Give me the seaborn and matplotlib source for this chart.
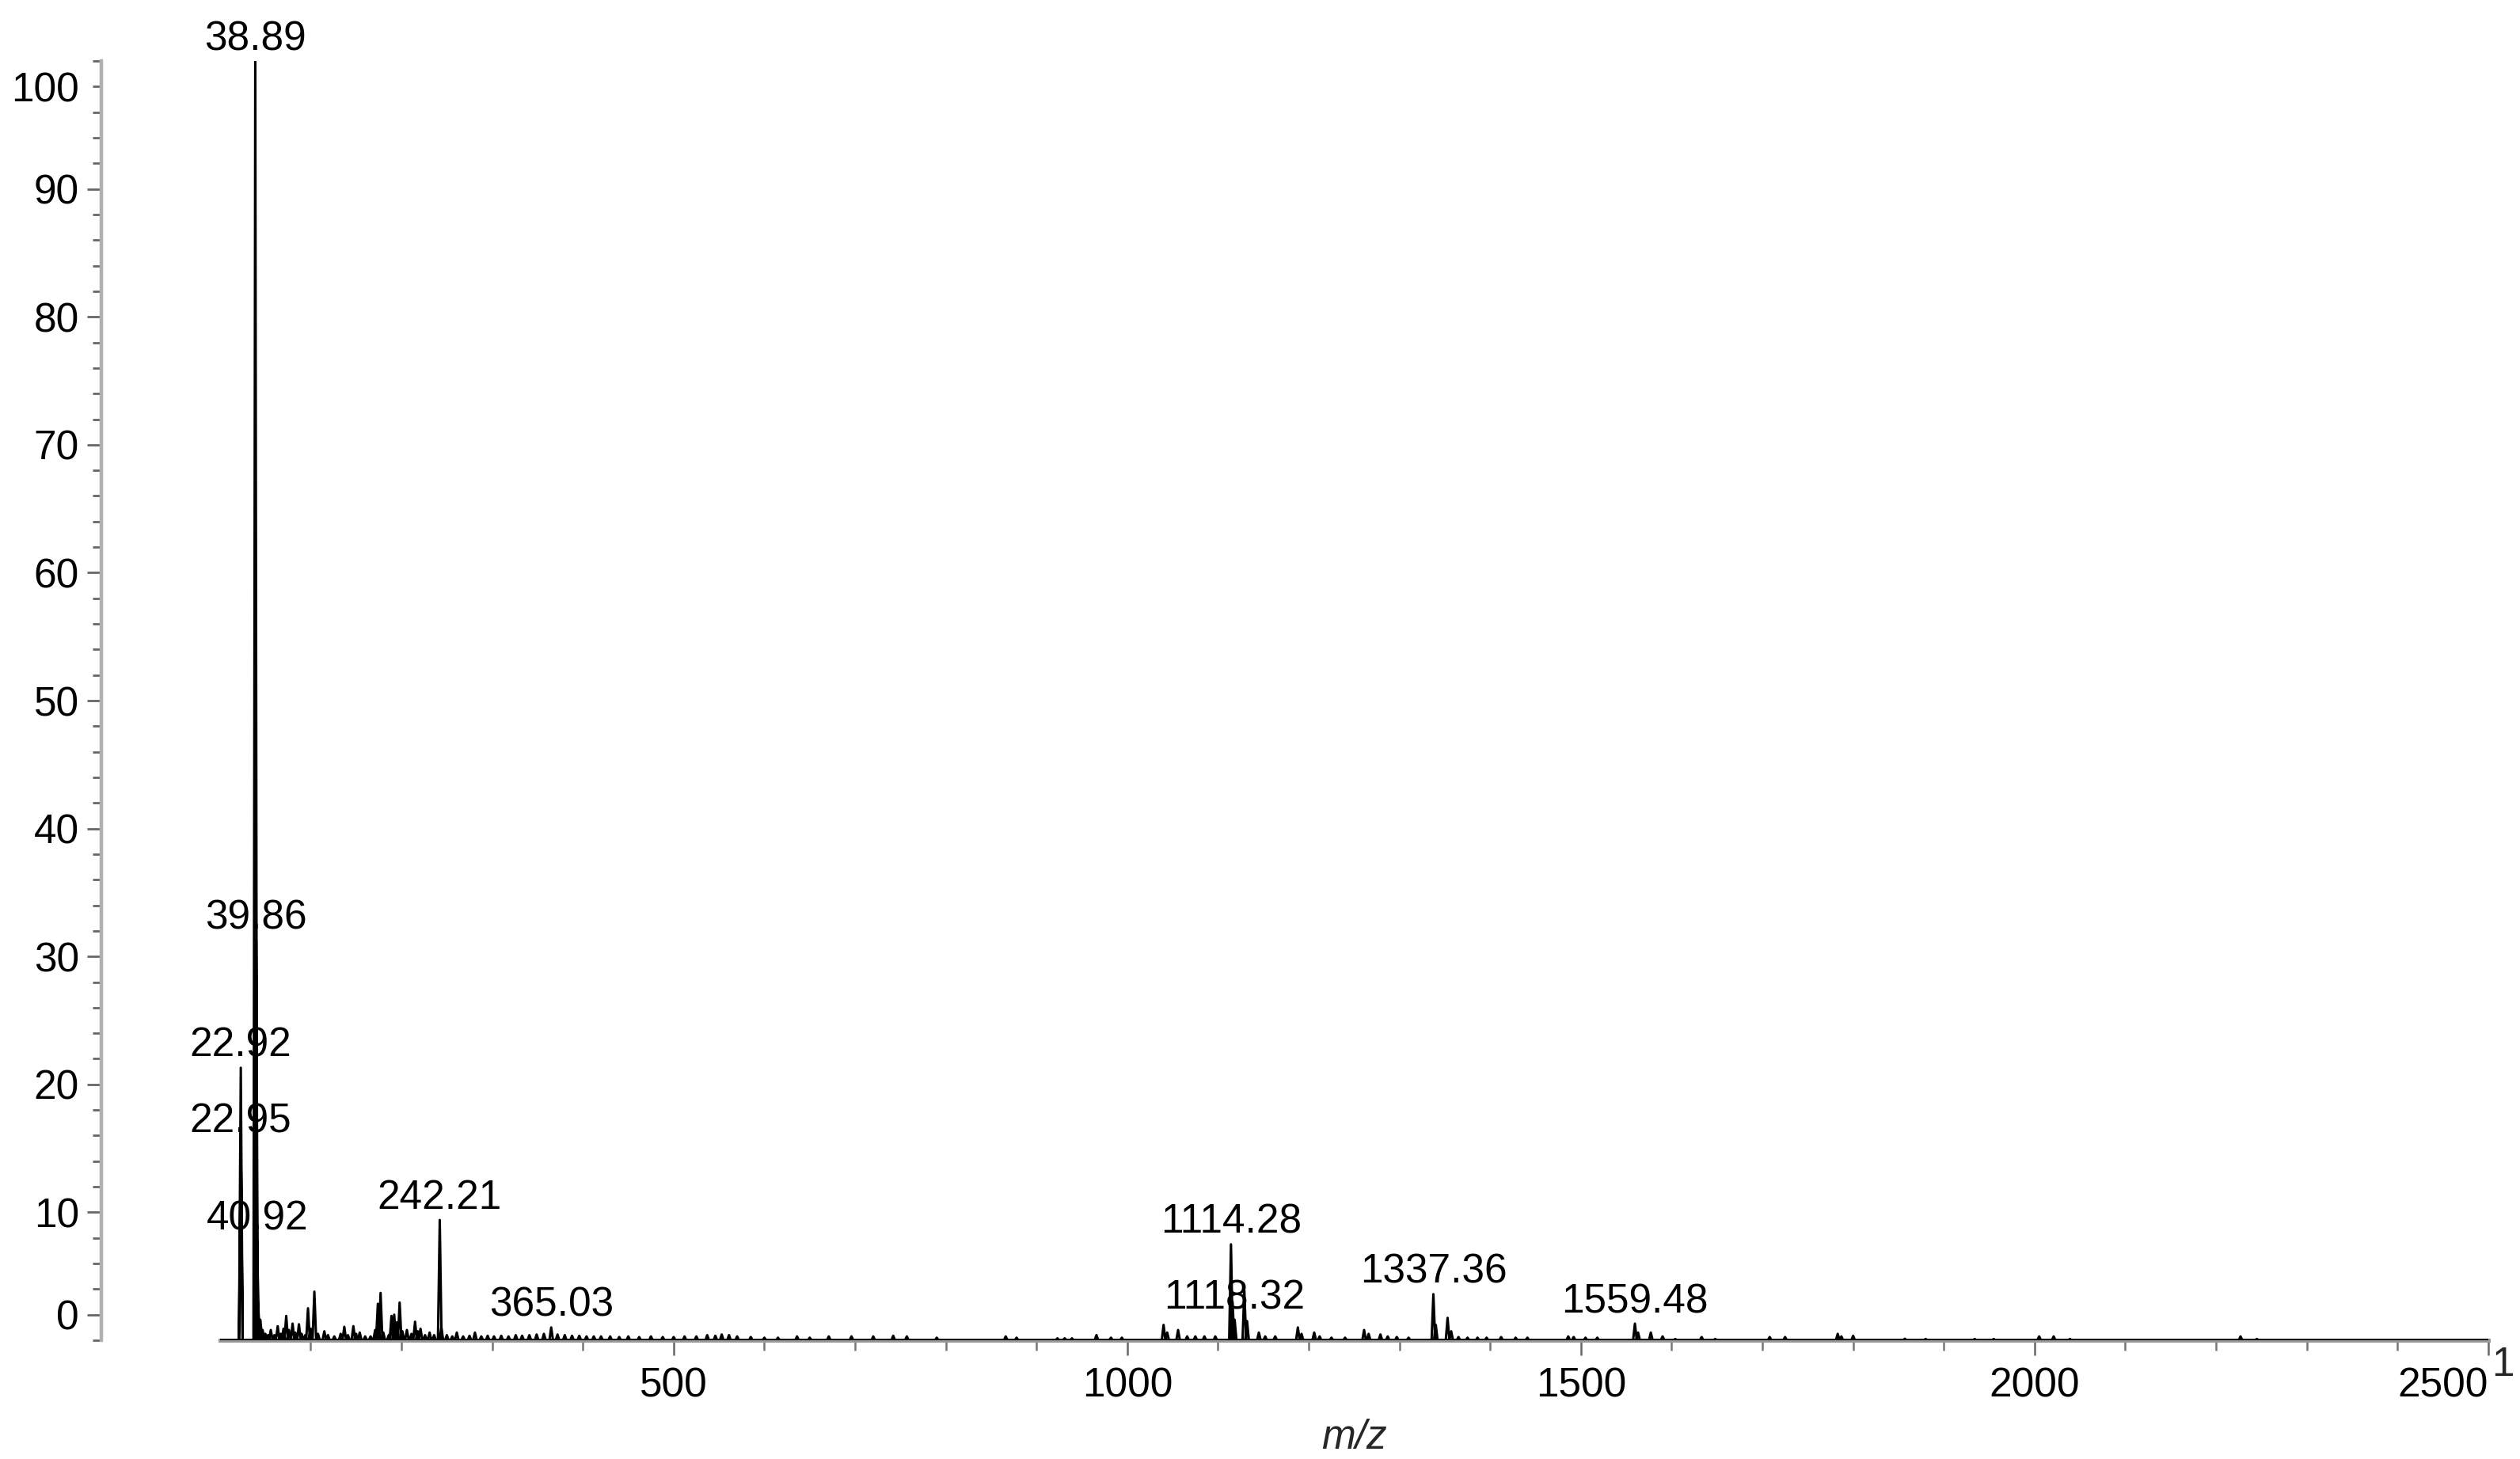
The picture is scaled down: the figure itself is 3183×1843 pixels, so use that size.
import matplotlib
matplotlib.use("Agg")
import matplotlib.pyplot as plt
import numpy as np
import pandas as pd
import seaborn as sns

# ---------------- data ----------------
peak_mz = [
    22.92, 22.95, 38.89, 39.86, 40.92, 42.0, 44.5, 47, 50, 53, 56, 60, 63.6, 67, 70, 73, 76, 80, 83, 87,
    90, 94, 97, 100, 104, 108, 115, 119, 126, 133, 137, 141, 147, 150, 154, 160, 166, 171, 174, 177,
    180, 186, 189, 192, 195, 198, 201, 206, 211, 215, 218, 221, 226, 231, 236, 242.21, 244, 250, 256, 261,
    268, 275, 281, 288, 295, 302, 310, 318, 326, 333, 341, 349, 357, 365.03, 372, 380, 388, 396, 404, 412,
    420, 430, 440, 450, 462, 475, 488, 500, 512, 525, 537, 546, 553, 561, 570, 585, 600, 615, 636, 650,
    671, 696, 720, 742, 757, 790, 866, 878, 923, 931, 939, 966, 982, 994, 1040, 1044, 1056, 1066, 1075, 1085,
    1097, 1114.28, 1116, 1118.32, 1129, 1132, 1145, 1152, 1163, 1188, 1192, 1206, 1212, 1225, 1240, 1261, 1266, 1279,
    1287, 1297, 1310, 1337.36, 1340, 1353, 1357, 1365, 1375, 1386, 1396, 1412, 1428, 1441, 1486, 1492, 1505, 1518,
    1559.48, 1563, 1577, 1590, 1604, 1633, 1648, 1708, 1725, 1783, 1787, 1800, 1857, 1880, 1934, 1955, 2005, 2021,
    2039, 2227, 2245,
]
peak_intensity = [
    21.3, 15.4, 100.0, 31.3, 7.8, 2.9, 1.6, 0.8, 0.5, 0.4, 0.8, 0.4, 1.1, 0.5, 0.9, 1.9, 0.8, 1.3, 0.6, 1.25,
    0.5, 0.4, 2.5, 0.9, 3.8, 0.5, 0.7, 0.4, 0.3, 0.5, 1.05, 0.4, 1.1, 0.5, 0.6, 0.3, 0.3, 0.8, 2.85, 3.7,
    0.6, 0.4, 1.9, 2.0, 1.4, 2.95, 0.7, 0.8, 0.5, 1.45, 0.7, 0.9, 0.4, 0.6, 0.4, 9.4, 1.0, 0.4, 0.3, 0.6,
    0.3, 0.35, 0.6, 0.3, 0.35, 0.3, 0.35, 0.3, 0.4, 0.35, 0.4, 0.45, 0.5, 1.0, 0.45, 0.4, 0.35, 0.35, 0.3, 0.3,
    0.3, 0.3, 0.25, 0.3, 0.25, 0.3, 0.25, 0.25, 0.3, 0.3, 0.4, 0.35, 0.45, 0.4, 0.3, 0.25, 0.2, 0.2, 0.3, 0.2,
    0.3, 0.3, 0.3, 0.35, 0.3, 0.2, 0.3, 0.2, 0.15, 0.15, 0.15, 0.4, 0.2, 0.2, 1.2, 0.6, 0.8, 0.3, 0.3, 0.3,
    0.3, 7.5, 3.0, 1.6, 3.9, 1.5, 0.6, 0.3, 0.3, 1.0, 0.5, 0.6, 0.3, 0.2, 0.2, 0.8, 0.5, 0.45,
    0.3, 0.25, 0.2, 3.6, 1.2, 1.75, 0.7, 0.25, 0.2, 0.2, 0.2, 0.25, 0.2, 0.2, 0.3, 0.25, 0.2, 0.2,
    1.3, 0.6, 0.6, 0.3, 0.1, 0.25, 0.1, 0.25, 0.25, 0.5, 0.3, 0.35, 0.12, 0.1, 0.1, 0.1, 0.3, 0.3,
    0.1, 0.3, 0.1,
]
labelled_peaks = ["38.89", "39.86", "22.92", "22.95", "40.92", "242.21", "365.03",
                  "1114.28", "1118.32", "1337.36", "1559.48"]

x_major_ticks = [500, 1000, 1500, 2000, 2500]
x_minor_ticks = [100, 200, 300, 400, 600, 700, 800, 900, 1100, 1200, 1300, 1400,
                 1600, 1700, 1800, 1900, 2100, 2200, 2300, 2400]
y_tick_labels = ["0", "10", "20", "30", "40", "50", "60", "70", "80", "90", "100"]
y_tick_values = [2, 10, 20, 30, 40, 50, 60, 70, 80, 90, 98]   # where the software printed them
y_minor_ticks = list(range(0, 101, 2))
x_label = "m/z"
end_mark = "1"

# ---------------- style ----------------
sns.set_style("ticks")
plt.rcParams["font.family"] = ["Liberation Sans", "DejaVu Sans"]
FS = 18.5
DPI = 200
PEAK_HALF_WIDTH = 2.0   # m/z units, gives the profile peaks a small base
fig = plt.figure(figsize=(3183 / DPI, 1843 / DPI), dpi=DPI)
ax = fig.add_axes([0.0873, 0.0814, 0.9001, 0.8768])

# profile-like spectrum drawn through seaborn (each peak: base -> apex -> base)
rows = []
for m, h in zip(peak_mz, peak_intensity):
    rows += [(m - PEAK_HALF_WIDTH, 0.0), (m, h), (m + PEAK_HALF_WIDTH, 0.0)]
spec = pd.DataFrame(rows, columns=["mz", "intensity"])
sns.lineplot(data=spec, x="mz", y="intensity", sort=False, estimator=None,
             color="black", lw=1.1, ax=ax)
ax.axhline(0, color="black", lw=1.4, zorder=3)

# peak labels
lookup = dict(zip(peak_mz, peak_intensity))
for txt in labelled_peaks:
    m = float(txt)
    ax.annotate(txt, xy=(m, lookup[m]), xytext=(0, 5), textcoords="offset points",
                ha="center", va="baseline", fontsize=FS, color="black",
                annotation_clip=False)

# axes limits
ax.set_xlim(0, 2500)
ax.set_ylim(0, 100)
ax.set_xlabel(x_label, fontsize=FS, style="italic", labelpad=6)
ax.set_ylabel("")

# spines
for s in ["top", "right"]:
    ax.spines[s].set_visible(False)
ax.spines["left"].set_position(("outward", 54))
ax.spines["left"].set_color("#b0b0b0")
ax.spines["left"].set_linewidth(1.6)
ax.spines["bottom"].set_color("#9a9a9a")
ax.spines["bottom"].set_linewidth(1.8)

# y ticks
ax.set_yticks(y_tick_values)
ax.set_yticklabels(y_tick_labels)
ax.set_yticks(y_minor_ticks, minor=True)
ax.tick_params(axis="y", which="major", length=6.5, width=1.0, color="#666666",
               labelsize=FS, pad=3.6, labelcolor="black")
ax.tick_params(axis="y", which="minor", length=4.0, width=1.0, color="#666666")
ax.yaxis.get_major_ticks()[-1].tick1line.set_markersize(4.0)

# x ticks
ax.set_xticks(x_major_ticks)
ax.set_xticklabels([str(v) for v in x_major_ticks])
ax.set_xticks(x_minor_ticks, minor=True)
ax.tick_params(axis="x", which="major", length=7.0, width=0.9, color="#666666",
               labelsize=FS, pad=5, labelcolor="black")
ax.tick_params(axis="x", which="minor", length=4.5, width=0.9, color="#777777")
ax.get_xticklabels()[-1].set_ha("right")

# little end mark after the last x tick
ax.annotate(end_mark, xy=(1, 0), xycoords="axes fraction", xytext=(1.5, -2.5),
            textcoords="offset points", ha="left", va="top", fontsize=FS,
            annotation_clip=False)

fig.savefig("out.png", dpi=DPI, facecolor="white")
